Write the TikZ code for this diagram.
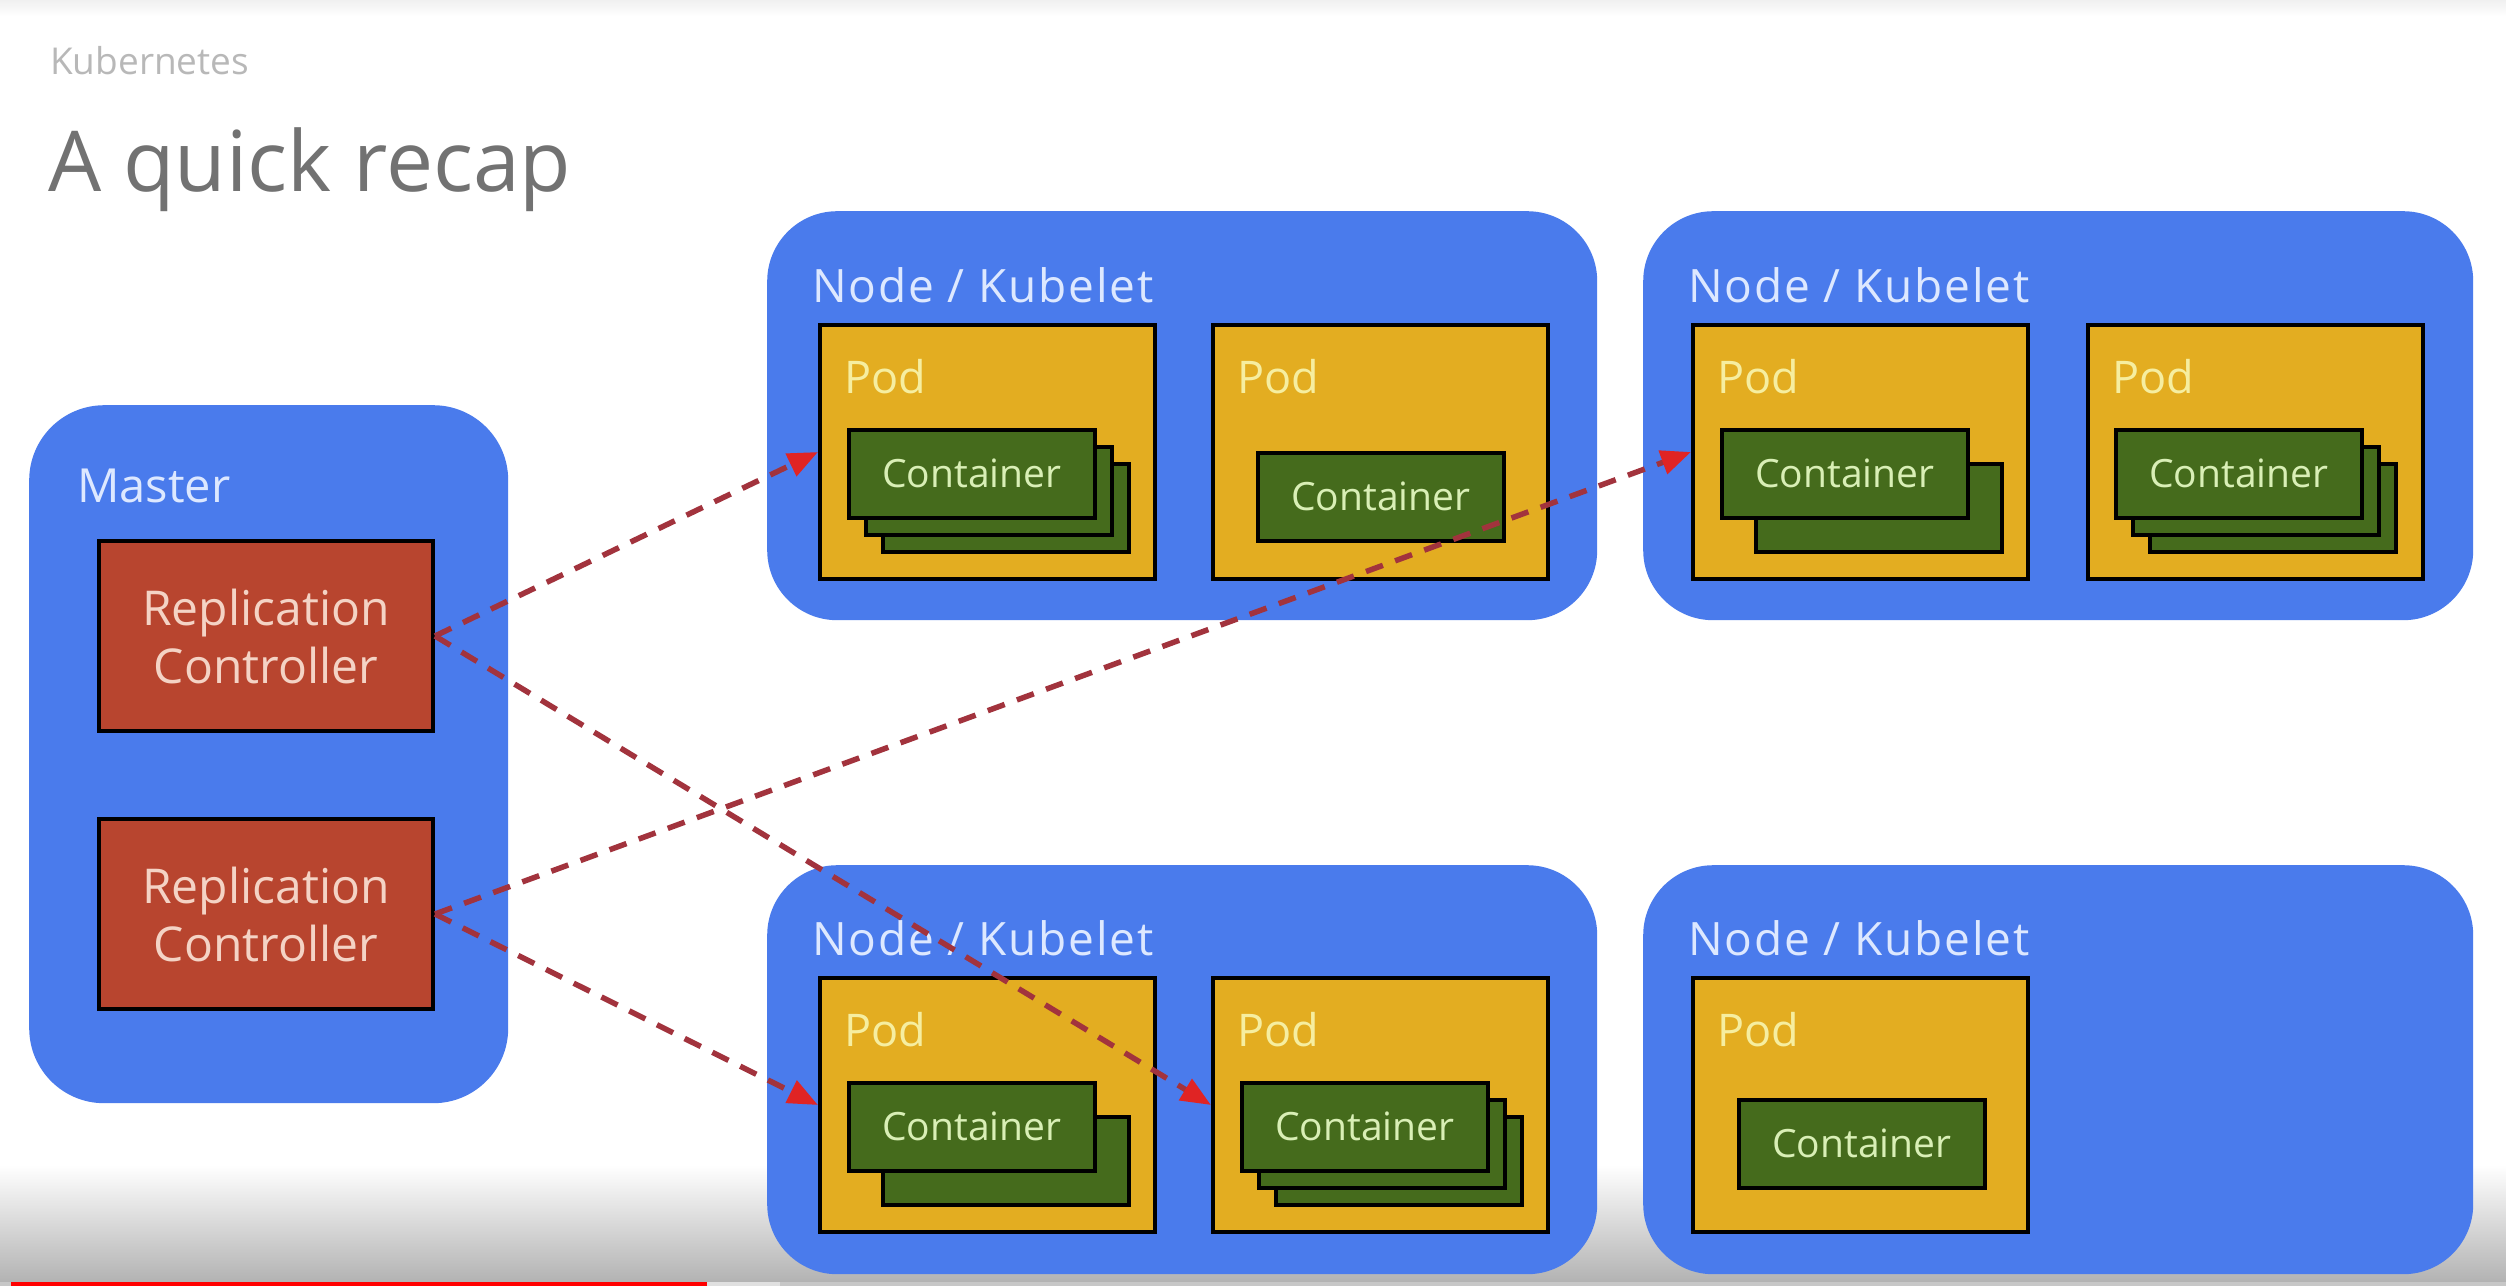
\documentclass[tikz,border=0pt]{standalone}
\usepackage{fontspec}
\setmainfont{Open Sans}
\newfontfamily\spacedfont{Open Sans}[LetterSpace=4]
\usetikzlibrary{arrows.meta,calc}
\definecolor{kblue}{HTML}{4A7BEC}
\definecolor{kyellow}{HTML}{E3AD21}
\definecolor{kgreen}{HTML}{456B1C}
\definecolor{kred}{HTML}{B8452F}
\definecolor{arrowline}{HTML}{A2333D}
\definecolor{arrowtip}{HTML}{E02424}
\definecolor{nodetext}{HTML}{DDE8FF}
\definecolor{podtext}{HTML}{F6EEA0}
\definecolor{conttext}{HTML}{D9EFB6}
\definecolor{rctext}{HTML}{F4D3C5}
\definecolor{titlegray}{HTML}{727272}
\definecolor{subgray}{HTML}{B8B8B8}
\begin{document}
\begin{tikzpicture}[x=1pt,y=-1pt,
  nodebox/.style={fill=kblue, rounded corners=70pt, minimum width=830pt, minimum height=409pt, anchor=north west, inner sep=0pt},
  masterbox/.style={fill=kblue, rounded corners=75pt, minimum width=479pt, minimum height=698pt, anchor=north west, inner sep=0pt},
  rcbox/.style={fill=kred, draw=black, line width=4pt, minimum width=334pt, minimum height=190pt, anchor=north west, inner sep=0pt, text=rctext, align=center, font=\fontsize{48pt}{58pt}\selectfont},
  podbox/.style={fill=kyellow, draw=black, line width=4pt, minimum width=335pt, minimum height=254pt, anchor=north west, inner sep=0pt},
  contbox/.style={fill=kgreen, draw=black, line width=3.5pt, minimum width=246pt, minimum height=88pt, anchor=north west, inner sep=0pt, text=conttext, font=\fontsize{39pt}{48pt}\selectfont},
  nodelabel/.style={anchor=base west, inner sep=0pt, text=nodetext, font=\spacedfont\fontsize{46pt}{55pt}\selectfont},
  podlabel/.style={anchor=base west, inner sep=0pt, text=podtext, font=\fontsize{45pt}{54pt}\selectfont},
  arr/.style={draw=arrowline, line width=5.5pt, dash pattern=on 18pt off 13pt, -{Triangle[length=30pt,width=24pt,color=arrowtip]}}
]
\useasboundingbox (0,0) rectangle (2506,1286);
\fill[white] (0,0) rectangle (2506,1286);
\shade[top color=black!6, bottom color=white] (0,0) rectangle (2506,16);
\shade[top color=white, bottom color=black!30] (0,1165) rectangle (2506,1282);
\fill[black!22] (0,1282) rectangle (2506,1286);
\fill[red] (11,1282) rectangle (707,1286);
\fill[black!12] (707,1282) rectangle (780,1286);

% titles
\node[anchor=base west, inner sep=0pt, text=subgray, font=\fontsize{37pt}{44pt}\selectfont] (sub) at (50,74) {Kubernetes};
\node[anchor=base west, inner sep=0pt, text=titlegray, font=\fontsize{84pt}{100pt}\selectfont] (title) at (48,191) {A quick recap};

% master
\node[masterbox] (master) at (29,405) {};
\node[anchor=base west, inner sep=0pt, text=nodetext, font=\fontsize{47pt}{56pt}\selectfont] (masterlabel) at (77,502) {Master};
\node[rcbox] (rc1) at (97,539) {Replication\\Controller};
\node[rcbox] (rc2) at (97,817) {Replication\\Controller};

% node boxes
\node[nodebox] (n1) at (767,211) {};
\node[nodebox] (n2) at (1643,211) {};
\node[nodebox] (n3) at (767,865) {};
\node[nodebox] (n4) at (1643,865) {};
\node[nodelabel] (n1l) at (812,302) {Node / Kubelet};
\node[nodelabel] (n2l) at (1688,302) {Node / Kubelet};
\node[nodelabel] (n3l) at (812,955) {Node / Kubelet};
\node[nodelabel] (n4l) at (1688,955) {Node / Kubelet};

% pods
\node[podbox] (pod1) at (818,323) {};
\node[podbox] (pod2) at (1211,323) {};
\node[podbox] (pod3) at (1691,323) {};
\node[podbox] (pod4) at (2086,323) {};
\node[podbox] (pod5) at (818,976) {};
\node[podbox] (pod6) at (1211,976) {};
\node[podbox] (pod7) at (1691,976) {};
\foreach \p in {pod1,pod2,pod3,pod4,pod5,pod6,pod7}
  \node[podlabel] (\p l) at ($(\p.north west)+(26,70)$) {Pod};

% containers
\node[contbox] (c1c) at (881,462) {};
\node[contbox] (c1b) at (864,445) {};
\node[contbox] (c1a) at (847,428) {Container};

\node[contbox] (c2a) at (1256,451) {Container};

\node[contbox] (c3b) at (1754,462) {};
\node[contbox] (c3a) at (1720,428) {Container};

\node[contbox] (c4c) at (2148,462) {};
\node[contbox] (c4b) at (2131,445) {};
\node[contbox] (c4a) at (2114,428) {Container};

\node[contbox] (c5b) at (881,1115) {};
\node[contbox] (c5a) at (847,1081) {Container};

\node[contbox] (c6c) at (1274,1115) {};
\node[contbox] (c6b) at (1257,1098) {};
\node[contbox] (c6a) at (1240,1081) {Container};

\node[contbox] (c7a) at (1737,1098) {Container};

% connectors
\draw[arr] (rc1.east) -- (pod1.west);
\draw[arr] (rc1.east) -- (pod6.west);
\draw[arr] (rc2.east) -- (pod3.west);
\draw[arr] (rc2.east) -- (pod5.west);
\end{tikzpicture}
\end{document}
